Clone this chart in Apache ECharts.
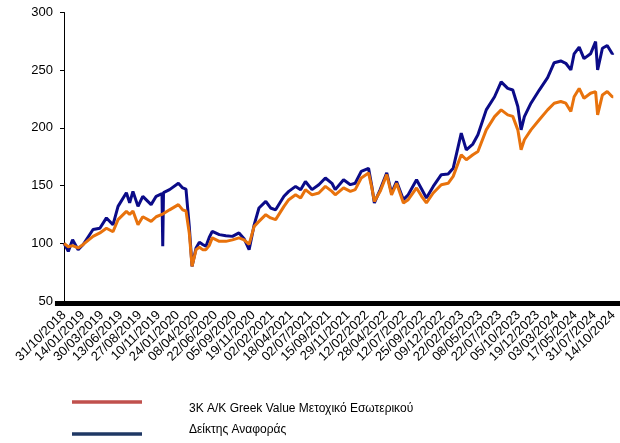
<!DOCTYPE html>
<html>
<head>
<meta charset="utf-8">
<script src="https://cdn.jsdelivr.net/npm/echarts@6/dist/echarts.min.js"></script>
<style>
  html, body { margin: 0; padding: 0; background: #fff; }
  #chart { width: 620px; height: 443px; }
</style>
</head>
<body>
<div id="chart"></div>
<script>
// dates (day/month/year axis, first label 31/10/2018)
const dates = [
  '2018-10-31', '2018-11-17', '2018-12-04', '2018-12-26', '2019-01-15', '2019-02-23',
  '2019-03-22', '2019-04-17', '2019-05-13', '2019-06-02', '2019-07-05', '2019-07-18',
  '2019-07-31', '2019-08-20', '2019-09-08', '2019-10-11', '2019-10-31', '2019-11-23',
  '2019-11-26', '2019-11-29', '2019-12-23', '2020-01-27', '2020-02-13', '2020-02-26',
  '2020-03-10', '2020-03-21', '2020-04-06', '2020-04-19', '2020-05-02', '2020-05-15',
  '2020-05-28', '2020-06-09', '2020-07-07', '2020-08-02', '2020-08-28', '2020-09-23',
  '2020-10-13', '2020-11-02', '2020-11-22', '2020-12-11', '2021-01-07', '2021-01-26',
  '2021-02-15', '2021-03-20', '2021-04-08', '2021-05-05', '2021-05-25', '2021-06-13',
  '2021-07-09', '2021-08-05', '2021-08-31', '2021-09-26', '2021-10-09', '2021-11-11',
  '2021-12-08', '2021-12-27', '2022-01-20', '2022-02-18', '2022-03-03', '2022-03-13',
  '2022-04-05', '2022-05-01', '2022-05-20', '2022-06-09', '2022-07-06', '2022-07-25',
  '2022-08-27', '2022-09-16', '2022-10-05', '2022-11-01', '2022-12-03', '2022-12-30',
  '2023-01-19', '2023-02-20', '2023-03-12', '2023-04-07', '2023-04-27', '2023-05-30',
  '2023-07-02', '2023-07-28', '2023-08-23', '2023-09-12', '2023-10-02', '2023-10-15',
  '2023-10-28', '2023-11-23', '2023-12-26', '2024-01-28', '2024-02-23', '2024-03-20',
  '2024-04-09', '2024-04-29', '2024-05-12', '2024-06-01', '2024-06-20', '2024-07-16',
  '2024-08-05', '2024-08-13', '2024-09-01', '2024-09-20', '2024-10-10', '2024-10-14'
]

// 3K A/K Greek Value Μετοχικό Εσωτερικού (orange line)
const fund = [
  100, 97, 98, 96, 99, 106,
  109, 113, 110, 120.5, 127.7, 125,
  128, 116, 123, 119, 123, 125,
  125, 125.5, 129, 133.5, 129, 128,
  109, 80, 94.5, 96.5, 94.5, 94.5,
  98, 104.7, 101.7, 101.7, 103, 104.7,
  103, 99, 114.7, 119, 124.8, 122,
  120.5, 132, 137.8, 142, 139.2, 146.5,
  142, 143.6, 149.3, 145, 142, 148,
  145, 146.5, 156.6, 161, 148, 136.3,
  145, 159.5, 142, 152, 135, 137.8,
  148, 140.7, 135, 143.6, 150.8, 152,
  158, 176.7, 172.4, 176.7, 179.6, 198.3,
  209.8, 215.6, 211.3, 210, 198.3, 181,
  189.7, 198.3, 207, 215.6, 221.4, 222.9,
  221.4, 214.2, 227, 234.2, 225.7, 230,
  231.5, 211.3, 228.6, 231.5, 227, 227
]

// Δείκτης Αναφοράς (navy line)
const benchmark = [
  100, 93, 103, 94.5, 99, 112,
  113, 122, 116, 132, 143.8, 135,
  145, 132, 140.7, 133.5, 140.7, 143,
  97.4, 144, 146.5, 152, 148, 147,
  114.7, 80, 96, 101, 99, 97.4,
  105, 110.4, 107.5, 106.5, 106, 109,
  104, 94.5, 116, 130.6, 136.3, 130.6,
  129, 140.7, 145, 149.3, 146.5, 153.6,
  146.5, 150.8, 156.6, 152, 146.5, 155,
  150.8, 152, 162.3, 165, 149.3, 135,
  146.5, 161, 143.6, 153.6, 137.8, 142,
  155, 147, 139.3, 149.3, 159.5, 160,
  165, 195.5, 181, 186, 194, 215.6,
  227, 239.9, 234.2, 232.8, 218.5, 198.3,
  209.8, 221.4, 232.8, 243.5, 256.5, 258,
  256, 250.2, 264.2, 270, 260, 264.2,
  274.8, 250.2, 269, 271.4, 264.2, 265
]

const legendNames = ['3K A/K Greek Value Μετοχικό Εσωτερικού', 'Δείκτης Αναφοράς']

const startMs = Date.UTC(2018, 9, 31)
const dayMs = 86400000
const toDay = (d) => Math.round((Date.parse(d + 'T00:00:00Z') - startMs) / dayMs)
const lastDay = toDay('2024-10-14')
const fmt = (v) => {
  const d = new Date(startMs + v * dayMs)
  const p = (n) => String(n).padStart(2, '0')
  return p(d.getUTCDate()) + '/' + p(d.getUTCMonth() + 1) + '/' + d.getUTCFullYear()
}

const font = 'Liberation Sans, Arial, sans-serif'
const chart = echarts.init(document.getElementById('chart'), null, { renderer: 'canvas' })

chart.setOption({
  animation: false,
  grid: { left: 64, right: 4, top: 12.5, bottom: 142, containLabel: false },
  xAxis: {
    type: 'value',
    min: 0,
    max: lastDay,
    interval: 75,
    splitLine: { show: false },
    axisLine: { lineStyle: { color: '#000', width: 1 } },
    // the source's daily ticks merge into a solid band; wide ticks give the same look
    axisTick: { show: true, length: 5, lineStyle: { color: '#000', width: 19.1 } },
    axisLabel: {
      rotate: 45,
      margin: 12,
      fontSize: 13,
      fontFamily: font,
      color: '#000',
      showMinLabel: true,
      showMaxLabel: true,
      formatter: fmt
    }
  },
  yAxis: {
    type: 'value',
    min: 50,
    max: 300,
    interval: 50,
    splitLine: { show: false },
    axisLine: { show: true, lineStyle: { color: '#000', width: 1 } },
    axisTick: { show: true, length: 4, lineStyle: { color: '#000' } },
    axisLabel: { margin: 11, fontSize: 13, fontFamily: font, color: '#000' }
  },
  series: [
    {
      name: legendNames[1],
      type: 'line',
      showSymbol: false,
      data: dates.map((d, i) => [toDay(d), benchmark[i]]),
      lineStyle: { color: '#0b0b88', width: 3 },
      itemStyle: { color: '#0b0b88' }
    },
    {
      name: legendNames[0],
      type: 'line',
      showSymbol: false,
      data: dates.map((d, i) => [toDay(d), fund[i]]),
      lineStyle: { color: '#e8720c', width: 3 },
      itemStyle: { color: '#e8720c' }
    }
  ],
  graphic: [
    { type: 'line', shape: { x1: 72, y1: 402, x2: 142, y2: 402 }, style: { stroke: '#c0504d', lineWidth: 3.5 } },
    { type: 'text', x: 189, y: 409, style: { text: legendNames[0], font: '12px ' + font, fill: '#000', verticalAlign: 'middle' } },
    { type: 'line', shape: { x1: 72, y1: 434, x2: 142, y2: 434 }, style: { stroke: '#1f3864', lineWidth: 3.5 } },
    { type: 'text', x: 189, y: 430, style: { text: legendNames[1], font: '12px ' + font, fill: '#000', verticalAlign: 'middle' } }
  ]
})
</script>
</body>
</html>
